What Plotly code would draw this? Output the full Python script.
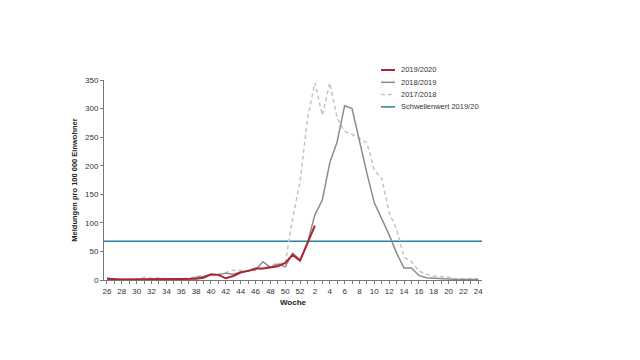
import plotly.graph_objects as go

weeks = list(range(26, 53)) + list(range(1, 25))
tick_labels = [str(w) if w % 2 == 0 else "" for w in weeks]

s2019_2020 = [2, 1, 1, 1, 1, 2, 1, 1, 2, 1, 1, 2, 2, 4, 10, 9, 3, 7, 13, 16, 20, 20, 22, 24, 30, 44, 34, 66, 95]

s2018_2019 = [3, 1, 1, 1, 1, 2, 2, 1, 1, 2, 2, 2, 5, 6, 9, 9, 12, 10, 14, 16, 18, 32, 22, 28, 23, 47, 35,
              65, 114, 140, 205, 242, 305, 300, 242, 187, 135, 108, 79, 47, 21, 21, 8, 4, 3, 3, 2, 1, 1, 1, 1]

s2017_2018 = [4, 1, 1, 1, 2, 5, 3, 4, 2, 2, 2, 3, 6, 7, 8, 10, 13, 17, 17, 15, 18, 20, 25, 30, 28, 108, 172,
              282, 345, 288, 345, 283, 260, 255, 248, 240, 192, 178, 118, 88, 40, 32, 16, 10, 7, 6, 5, 2, 2, 2, 2]

threshold = 68

series_names = ["2019/2020", "2018/2019", "2017/2018", "Schwellenwert 2019/20"]
series_colors = ["#b0232f", "#8c8c8c", "#c4c4c4", "#2b7ea1"]
series_widths = [2, 1.5, 1.5, 1.5]
series_dash = ["solid", "solid", "4px,3px", "solid"]

idx = list(range(len(weeks)))
fig = go.Figure()
data = [
    (idx[:len(s2019_2020)], s2019_2020),
    (idx, s2018_2019),
    (idx, s2017_2018),
    ([-0.4, 50.5], [threshold, threshold]),
]
order = [3, 2, 1, 0]
for k in order:
    xs, ys = data[k]
    fig.add_trace(go.Scatter(x=xs, y=ys, mode="lines", name=series_names[k],
                             line=dict(color=series_colors[k], width=series_widths[k], dash=series_dash[k]),
                             showlegend=False))

# manual legend (compact spacing like the reference)
L, W, T, H = 104, 378, 80, 200
def px_x(p):
    return (p - L) / W
def px_y(p):
    return (T + H - p) / H

for i, name in enumerate(series_names):
    yy = 70 + i * 12.3
    fig.add_shape(type="line", xref="paper", yref="paper",
                  x0=px_x(381), x1=px_x(395), y0=px_y(yy), y1=px_y(yy),
                  line=dict(color=series_colors[i], width=series_widths[i], dash=series_dash[i]))
    fig.add_annotation(xref="paper", yref="paper", x=px_x(399), y=px_y(yy), text=name,
                       showarrow=False, xanchor="left", yanchor="middle",
                       font=dict(size=7.5, color="#333"))

fig.update_layout(
    width=640, height=360,
    margin=dict(l=L, r=640 - L - W, t=T, b=360 - T - H),
    paper_bgcolor="white", plot_bgcolor="white",
    font=dict(family="Liberation Sans, Arial, sans-serif", size=8, color="#333"),
    showlegend=False,
    xaxis=dict(range=[-0.4, 50.5], tickmode="array", tickvals=idx, ticktext=tick_labels,
               showline=True, linecolor="#777", linewidth=1, ticks="outside", ticklen=3,
               tickcolor="#777", showgrid=False, zeroline=False,
               title=dict(text="<b>Woche</b>", font=dict(size=8, color="#222"), standoff=4)),
    yaxis=dict(range=[0, 350], tickvals=[0, 50, 100, 150, 200, 250, 300, 350],
               showline=True, linecolor="#777", linewidth=1, ticks="outside", ticklen=3,
               tickcolor="#777", showgrid=False, zeroline=False,
               title=dict(text="<b>Meldungen pro 100 000 Einwohner</b>", font=dict(size=7.5, color="#222"), standoff=6)),
)

fig.write_html("out.html")
